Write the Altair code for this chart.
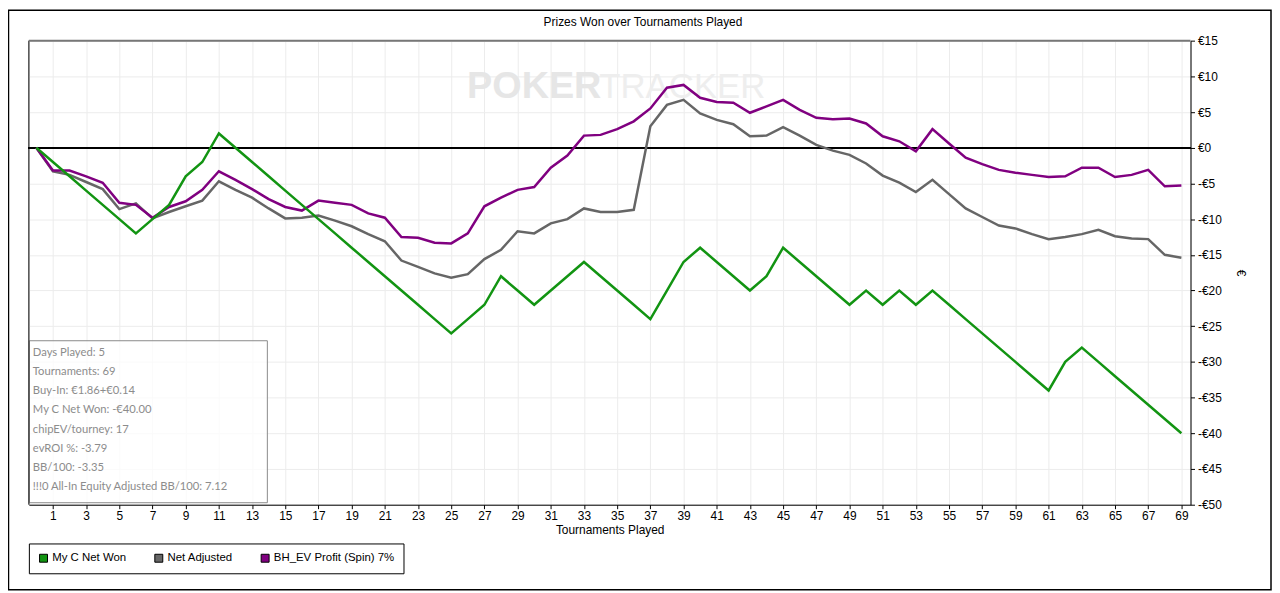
import altair as alt
import pandas as pd

tournaments = list(range(70))

my_c_net_won = [0, -2, -4, -6, -8, -10, -12, -10, -8, -4, -2, 2, 0, -2, -4, -6, -8, -10, -12, -14,
                -16, -18, -20, -22, -24, -26, -24, -22, -18, -20, -22, -20, -18, -16, -18, -20, -22, -24, -20, -16,
                -14, -16, -18, -20, -18, -14, -16, -18, -20, -22, -20, -22, -20, -22, -20, -22, -24, -26, -28, -30,
                -32, -34, -30, -28, -30, -32, -34, -36, -38, -40]

net_adjusted = [0, -3.3, -3.8, -4.8, -5.8, -8.6, -7.8, -9.9, -9.0, -8.2, -7.4, -4.7, -5.9, -7.0, -8.5, -9.9, -9.8, -9.5, -10.2, -11.0,
                -12.1, -13.1, -15.8, -16.7, -17.6, -18.2, -17.7, -15.6, -14.3, -11.7, -12.0, -10.6, -10.0, -8.5, -9.0, -9.0, -8.7, 3.0, 6.0, 6.7,
                4.8, 3.9, 3.3, 1.6, 1.7, 2.9, 1.7, 0.4, -0.4, -1.0, -2.2, -3.9, -4.9, -6.2, -4.5, -6.5, -8.5, -9.7, -10.9, -11.3,
                -12.1, -12.8, -12.5, -12.1, -11.5, -12.4, -12.7, -12.8, -15.0, -15.4]

bh_ev_profit = [0, -3.2, -3.2, -4.0, -4.9, -7.7, -8.0, -9.8, -8.3, -7.5, -5.9, -3.3, -4.5, -5.8, -7.2, -8.3, -8.8, -7.4, -7.7, -8.0,
                -9.2, -9.8, -12.5, -12.6, -13.3, -13.4, -12.0, -8.2, -7.0, -5.9, -5.5, -2.8, -1.1, 1.7, 1.8, 2.6, 3.7, 5.5, 8.4, 8.8,
                7.0, 6.4, 6.3, 4.9, 5.8, 6.7, 5.3, 4.2, 4.0, 4.1, 3.4, 1.6, 0.9, -0.5, 2.6, 0.6, -1.4, -2.3, -3.1, -3.5,
                -3.8, -4.1, -4.0, -2.8, -2.8, -4.1, -3.8, -3.1, -5.4, -5.3]

series_names = ["My C Net Won", "Net Adjusted", "BH_EV Profit (Spin) 7%"]
series_colors = ["#129412", "#666666", "#800080"]

x_ticks = list(range(1, 70, 2))
y_ticks = list(range(-50, 20, 5))

chart_title = "Prizes Won over Tournaments Played"

stats_lines = [
    "Days Played: 5",
    "Tournaments: 69",
    "Buy-In: €1.86+€0.14",
    "My C Net Won: -€40.00",
    "chipEV/tourney: 17",
    "evROI %: -3.79",
    "BB/100: -3.35",
    "!!!0 All-In Equity Adjusted BB/100: 7.12",
]

rows = []
for name, vals in zip(series_names, [my_c_net_won, net_adjusted, bh_ev_profit]):
    for t, v in zip(tournaments, vals):
        rows.append({"t": t, "v": v, "series": name})
df = pd.DataFrame(rows)

# rows used only to build the legend (placed outside the view and clipped)
legend_df = pd.DataFrame({"t": [-100] * 3, "v": [-100] * 3, "series": series_names})

W, H = 1169, 467
FONT = "Liberation Sans"

x_axis = alt.Axis(
    values=x_ticks, title="Tournaments Played", grid=True, gridColor="#ececec",
    tickSize=4, labelPadding=2, domainColor="black", tickColor="black",
    labelFont=FONT, labelFontSize=12, labelColor="black", labelFlush=False, labelOverlap=False,
    titleFont=FONT, titleFontSize=12, titleFontWeight="normal", titleColor="black", titlePadding=3,
)
y_axis = alt.Axis(
    orient="right", values=y_ticks, title="€", grid=True, gridColor="#ececec",
    tickSize=4, labelPadding=3, domainColor="black", tickColor="black",
    labelExpr="datum.value < 0 ? '-€' + abs(datum.value) : '€' + datum.value",
    labelFont=FONT, labelFontSize=12, labelColor="black", labelFlush=False, labelOverlap=False,
    titleFont=FONT, titleFontSize=12, titleFontWeight="normal", titleColor="black", titlePadding=12,
)
x_scale = alt.Scale(domain=[-0.45, 69.55], nice=False, zero=False)
y_scale = alt.Scale(domain=[-50, 15], nice=False, zero=False)

x_enc = alt.X("t:Q", scale=x_scale, axis=x_axis)
y_enc = alt.Y("v:Q", scale=y_scale, axis=y_axis)

base = alt.Chart(df)
one = alt.Chart(pd.DataFrame({"a": [0]}))

title_text = one.mark_text(
    text=chart_title, font=FONT, fontSize=12, color="black", align="center", baseline="middle"
).encode(x=alt.value(618), y=alt.value(-19))

watermark_poker = one.mark_text(
    text="POKER", font=FONT, fontSize=38, fontWeight="bold", color="#e6e6e6", align="left", baseline="middle"
).encode(x=alt.value(441), y=alt.value(47))
watermark_tracker = one.mark_text(
    text="TRACKER", font=FONT, fontSize=35, color="#eeeeee", align="left", baseline="middle"
).encode(x=alt.value(574), y=alt.value(47))

zero_rule = base.mark_rule(color="black", strokeWidth=1).encode(
    y=alt.Y(datum=0, scale=y_scale, axis=y_axis)
)

color_of = dict(zip(series_names, series_colors))
layers = []
for name in ["Net Adjusted", "BH_EV Profit (Spin) 7%", "My C Net Won"]:
    layers.append(
        base.transform_filter(alt.datum.series == name)
        .mark_line(strokeWidth=2.5, color=color_of[name])
        .encode(x=x_enc, y=y_enc)
    )

legend_layer = (
    alt.Chart(legend_df)
    .mark_square(filled=True, size=64, clip=True, opacity=1)
    .encode(
        x=x_enc,
        y=y_enc,
        color=alt.Color(
            "series:N",
            scale=alt.Scale(domain=series_names, range=series_colors),
            legend=alt.Legend(
                title=None, orient="none", legendX=0, legendY=506, direction="horizontal", columns=3,
                symbolType="square", symbolSize=64, symbolStrokeColor="black", symbolStrokeWidth=1,
                symbolOpacity=1,
                labelFont=FONT, labelFontSize=11.5, labelColor="black", labelOffset=3, labelLimit=400,
                columnPadding=25, padding=9, strokeColor="black", fillColor="white",
            ),
        ),
    )
)

stats_box = one.mark_rect(fill="white", fillOpacity=0.75, stroke="#8a8a8a", strokeWidth=1).encode(
    x=alt.value(0.5), x2=alt.value(240), y=alt.value(302), y2=alt.value(465)
)
stats_text = one.mark_text(
    text=stats_lines, font="Lato", fontSize=11.3, color="#8c8c8c", align="left", baseline="middle", lineHeight=19.3
).encode(x=alt.value(4), y=alt.value(314.3))

left_border = one.mark_rule(color="black", strokeWidth=1).encode(x=alt.value(0), y=alt.value(0), y2=alt.value(H))
top_border = one.mark_rule(color="#777777", strokeWidth=2).encode(x=alt.value(0), x2=alt.value(W), y=alt.value(0))
frame = one.mark_rect(fillOpacity=0, stroke="black", strokeWidth=1.5).encode(
    x=alt.value(-20.5), x2=alt.value(1250), y=alt.value(-30.5), y2=alt.value(552.5)
)

chart = alt.layer(
    watermark_poker, watermark_tracker, zero_rule, *layers, legend_layer,
    stats_box, stats_text, left_border, top_border, frame, title_text,
).properties(
    width=W,
    height=H,
    autosize=alt.AutoSizeParams(type="none"),
    padding={"left": 21, "top": 31, "right": 82, "bottom": 87},
).configure_view(stroke="transparent").configure_axis(labelOverlap=False).configure(background="white")

chart.save("out.html", embed_options={"renderer": "svg", "actions": False})
